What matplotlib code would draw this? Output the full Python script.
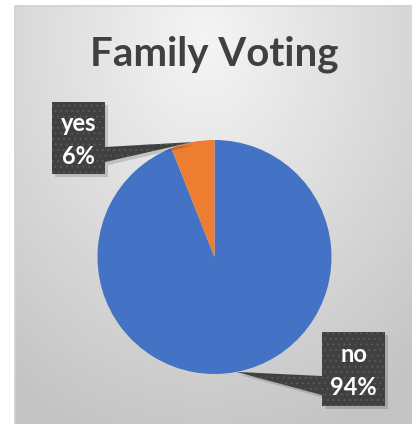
import numpy as np
import matplotlib.pyplot as plt
from matplotlib.patches import Polygon

labels = ["no", "yes"]
values = [94, 6]
colors = ["#4472C4", "#ED7D31"]

plt.rcParams["hatch.linewidth"] = 0.6

W, H = 412, 424
fig = plt.figure(figsize=(W / 100, H / 100), dpi=100)
ax = fig.add_axes([0, 0, 1, 1])

# chart area background with a soft radial gradient
x0, y_top = 15, 6
gx, gy = np.meshgrid(np.linspace(x0, W, 200), np.linspace(y_top, H, 200))
d = np.sqrt(((gx - 205) / 330) ** 2 + ((gy - 40) / 420) ** 2)
d = np.clip(d, 0, 1)
shade = 0.96 - 0.19 * d
ax.imshow(np.dstack([shade] * 3), extent=(x0, W, 0, H - y_top),
          origin="upper", zorder=0, aspect="auto")
ax.plot([x0, x0, W], [0, H - y_top, H - y_top], color="#d0d0d0", lw=1.2, zorder=1)

# pie
cx, cy, r = 214.5, H - 257, 117
wedges, _ = ax.pie(values, colors=colors, startangle=90, counterclock=False,
                   center=(cx, cy), radius=r, wedgeprops=dict(linewidth=0))
for w in wedges:
    w.set_zorder(2)

# callout boxes: box (left, top, right, bottom) in pixels from top, pointer side
boxes = {
    "yes": ((52, 102, 105, 174), "right", (147, 162)),
    "no": ((322, 332, 385, 406), "left", (376, 395)),
}

for w, lab, val in zip(wedges, labels, values):
    mid = np.deg2rad((w.theta1 + w.theta2) / 2)
    tip = (cx + r * np.cos(mid), cy + r * np.sin(mid))
    (l, t, rr, b), side, (p1, p2) = boxes[lab]
    l_, t_, r_, b_ = l, H - t, rr, H - b
    if side == "right":
        pts = [(l_, t_), (r_, t_), (r_, H - p1), tip, (r_, H - p2), (r_, b_), (l_, b_)]
    else:
        pts = [(l_, t_), (r_, t_), (r_, b_), (l_, b_), (l_, H - p2), tip, (l_, H - p1)]
    shadow = Polygon([(x + 3, y - 3) for x, y in pts], closed=True,
                     facecolor="black", alpha=0.15, lw=0, zorder=3)
    ax.add_patch(shadow)
    box = Polygon(pts, closed=True, facecolor="#404040", edgecolor="#5c5c5c",
                  hatch="...", lw=0, zorder=4)
    ax.add_patch(box)
    ax.text((l_ + r_) / 2, (t_ + b_) / 2 - 2, f"{lab}\n{val}%", color="white",
            fontsize=17, fontweight="bold", family="Lato", ha="center",
            va="center", linespacing=1.5, zorder=5)

ax.text(214, H - 54, "Family Voting", fontsize=29, fontweight="bold",
        family="Lato", color="#404040", ha="center", va="center", zorder=5)

ax.set_xlim(0, W)
ax.set_ylim(0, H)
ax.set_aspect("auto")
ax.axis("off")

fig.savefig("out.png", dpi=100)
